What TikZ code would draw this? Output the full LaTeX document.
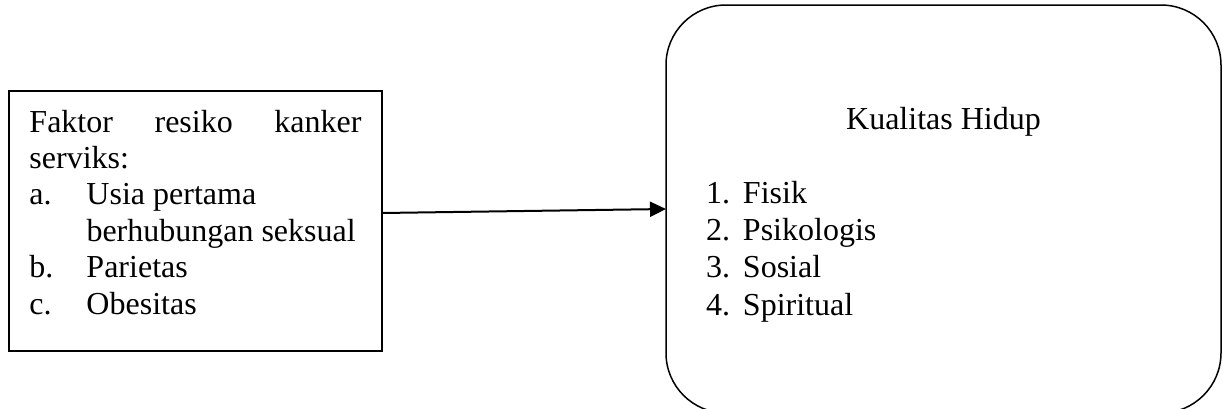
\documentclass[tikz,border=0pt]{standalone}
\usepackage{fontspec}
\setmainfont{Liberation Serif}
\usetikzlibrary{arrows.meta}

\tikzset{
  box/.style={draw, line width=0.75pt, anchor=north west, inner sep=0pt, outer sep=0pt,
    font=\fontsize{16pt}{18.2pt}\selectfont},
  link/.style={line width=1pt, -{Triangle[length=8pt,width=7.5pt]}}
}
\newcommand{\itemlabel}[1]{\makebox[28.5pt][l]{#1}}
\newcommand{\numlabel}[1]{\makebox[18.5pt][l]{#1}}

\begin{document}
\begin{tikzpicture}[x=0.5pt,y=-0.5pt]
\useasboundingbox (0,0) rectangle (1223,408);

% faktor resiko
\node[box, minimum width=186.5pt, minimum height=130pt] (faktor) at (9,91)
{\parbox[c][130pt][t]{166pt}{\rule{0pt}{20.5pt}Faktor\hfill resiko\hfill kanker\\
serviks:\\
\itemlabel{a.}Usia pertama\\
\hspace*{28.5pt}berhubungan seksual\\
\itemlabel{b.}Parietas\\
\itemlabel{c.}Obesitas}};

% kualitas hidup
\node[box, rounded corners=30pt, minimum width=277.5pt, minimum height=204pt,
  font=\fontsize{16pt}{18.7pt}\selectfont] (kualitas) at (666,5)
{\parbox[c][204pt][t]{237.5pt}{{\centering\rule{0pt}{62pt}Kualitas Hidup\par}
\vspace{18.3pt}
\numlabel{1.}Fisik\\
\numlabel{2.}Psikologis\\
\numlabel{3.}Sosial\\
\numlabel{4.}Spiritual}};

\draw[link] ([yshift=4pt]faktor.east) -- (kualitas.west);
\end{tikzpicture}
\end{document}
